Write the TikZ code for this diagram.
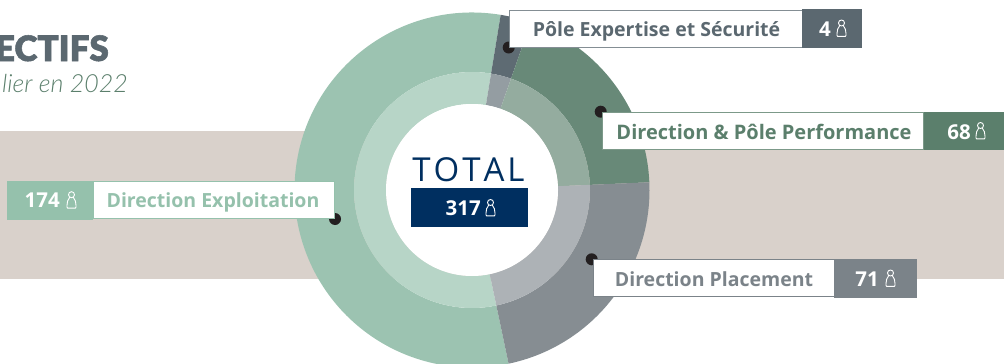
\documentclass[tikz,border=0pt]{standalone}
\usepackage{fontspec}
\setmainfont{Open Sans}
\newfontfamily\titlefont[FakeBold=1.6]{Lato Black}
\newfontfamily\lightfont[ItalicFont=Lato Light Italic]{Lato Light}
\usetikzlibrary{calc}
\definecolor{band}{HTML}{D9D1CB}
\definecolor{cgreen}{HTML}{95C1AC}
\definecolor{cdark}{HTML}{5B7F6C}
\definecolor{cgrey}{HTML}{7B8389}
\definecolor{cslate}{HTML}{5B6870}
\definecolor{navy}{HTML}{002F60}
\definecolor{dotc}{HTML}{231F20}
\newcommand{\ringsector}[5]{%
  \fill[#5] (#3:#2pt) arc[start angle=#3,end angle=#4,radius=#2pt]
    -- (#4:#1pt) arc[start angle=#4,end angle=#3,radius=#1pt] -- cycle;}
\newcommand{\personicon}[3]{%
  \draw[white,line width=.9pt,shift={(#1,#2)},scale=#3]
    (0,3) circle[radius=3pt]
    (-2,6) .. controls (-3.6,8) and (-4.5,10) .. (-4.5,13.5) -- (-4.5,15.5) -- (-3.8,16.4) -- (3.8,16.4) -- (4.5,15.5) -- (4.5,13.5)
    .. controls (4.5,10) and (3.6,8) .. (2,6);}
\tikzset{
  labelbox/.style={draw=#1,line width=1pt,fill=white,inner sep=0pt,outer sep=0pt,anchor=north west},
  valuebox/.style={fill=#1,inner sep=0pt,outer sep=0pt,anchor=north west},
  labeltext/.style={text=#1,font=\fontsize{19.5}{24}\selectfont\bfseries,inner sep=0pt,anchor=base},
  valuetext/.style={text=white,font=\fontsize{20.5}{24}\selectfont\bfseries,inner sep=0pt,anchor=base east},
  dotmark/.style={circle,fill=dotc,minimum size=12pt,inner sep=0pt}
}
\begin{document}
\begin{tikzpicture}[x=1pt,y=-1pt]
\useasboundingbox (0,0) rectangle (1004,364);
\clip (0,0) rectangle (1004,364);
\fill[band] (0,131) rectangle (1004,279);
\node[anchor=base east,inner sep=0pt,text=cslate,font=\titlefont\fontsize{35}{40}\selectfont] (title) at (109,61) {ECTIFS};
\node[anchor=base east,inner sep=0pt,text=cdark,font=\lightfont\fontsize{25}{30}\selectfont\itshape] (subtitle) at (128,92) {lier en 2022};
\begin{scope}[shift={(472,190)}]
  \ringsector{118}{177.5}{80.7}{281.9}{cgreen!90!white!98!black}
  \ringsector{86}{118}{80.7}{281.9}{cgreen!68!white}
  \ringsector{118}{177.5}{70.7}{80.7}{cslate!98!white}
  \ringsector{86}{118}{70.7}{80.7}{cslate!65!white}
  \ringsector{118}{177.5}{2.5}{70.7}{cdark!92!white}
  \ringsector{86}{118}{2.5}{70.7}{cdark!65!white}
  \ringsector{118}{177.5}{-78.1}{2.5}{cgrey!92!white}
  \ringsector{86}{118}{-78.1}{2.5}{cgrey!62!white}
  \fill[white] (0,0) circle[radius=86pt];
\end{scope}
\node[dotmark] (d1) at (508.7,47.5) {};
\node[dotmark] (d2) at (600.7,111.7) {};
\node[dotmark] (d3) at (591.7,259.3) {};
\node[dotmark] (d4) at (335,219) {};
% Pole Expertise
\node[labelbox=cslate!75!white,minimum width=293pt,minimum height=37pt] (b1) at (509.5,10) {};
\node[valuebox=cslate,minimum width=60pt,minimum height=38.5pt] (v1) at (802,9.3) {};
\node[labeltext=cslate] (t1) at (656.5,36) {Pôle Expertise et Sécurité};
\node[valuetext] (n1) at (831,36) {4};
\personicon{841.5}{20}{1}
% Direction & Pole Performance
\node[labelbox=cdark!80!white,minimum width=321pt,minimum height=37pt] (b2) at (602.5,112.5) {};
\node[valuebox=cdark,minimum width=81pt,minimum height=38.5pt] (v2) at (924,111.7) {};
\node[labeltext=cdark,font=\fontsize{20}{24}\selectfont\bfseries] (t2) at (764,139) {Direction \& Pôle Performance};
\node[valuetext] (n2) at (971,139) {68};
\personicon{980.5}{122.5}{1}
% Direction Placement
\node[labelbox=cgrey,minimum width=240.5pt,minimum height=37pt] (b3) at (593.5,259.8) {};
\node[valuebox=cgrey,minimum width=83pt,minimum height=38.5pt] (v3) at (834,259) {};
\node[labeltext=cgrey] (t3) at (714,286) {Direction Placement};
\node[valuetext] (n3) at (879,286) {71};
\personicon{890.5}{270}{1}
% Direction Exploitation
\node[valuebox=cgreen,minimum width=86.5pt,minimum height=38.5pt] (v4) at (6.7,181) {};
\node[labelbox=cgreen,minimum width=241pt,minimum height=37pt] (b4) at (93,181.8) {};
\node[labeltext=cgreen] (t4) at (213,207.3) {Direction Exploitation};
\node[valuetext] (n4) at (60,207.3) {174};
\personicon{71.5}{191.7}{1}
% Total
\node[valuebox=navy,minimum width=117pt,minimum height=38.5pt] (v5) at (411,188) {};
\node[anchor=base,inner sep=0pt,text=navy,font=\fontsize{33}{36}\selectfont] (total) at (468.5,181) {T\kern3pt O\kern3pt T\kern3pt A\kern3pt L};
\node[valuetext] (n5) at (481,215) {317};
\personicon{490.5}{199.5}{1}
\end{tikzpicture}
\end{document}
